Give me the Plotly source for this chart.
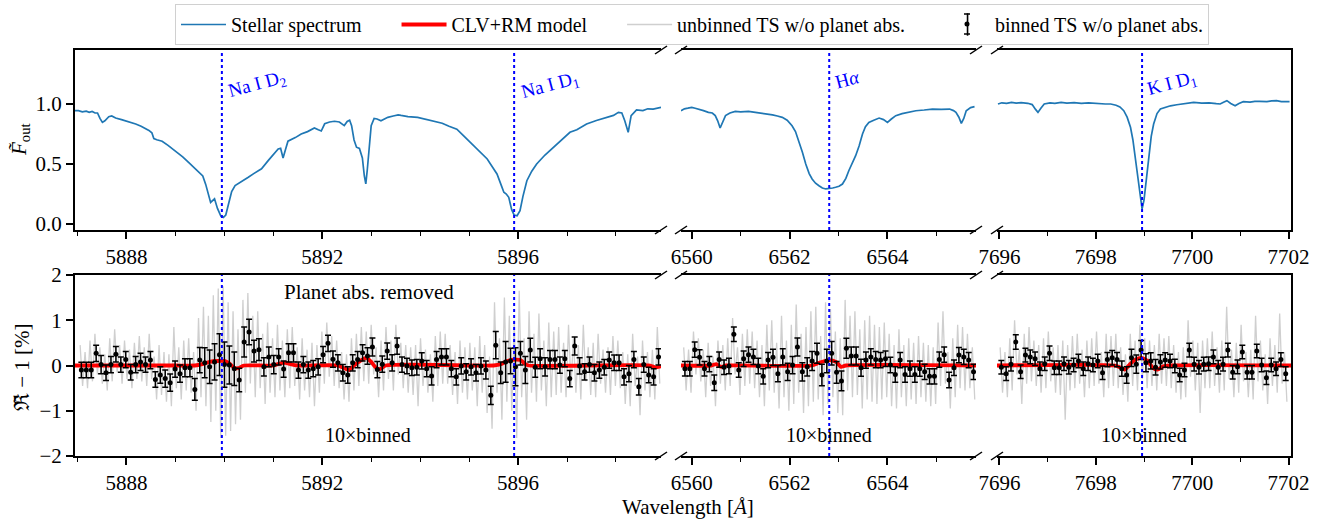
import numpy as np
import plotly.graph_objects as go

W, H = 1336, 520

# ---------------- data ----------------
line_labels = ["Na I D<sub>2</sub>", "Na I D<sub>1</sub>", "H<i>α</i>", "K I D<sub>1</sub>"]
line_centres = [5889.95, 5895.92, 6562.81, 7698.96]
line_panel = [0, 0, 1, 2]

panel_ranges = [[5886.95, 5898.92], [6559.78, 6565.81], [7695.95, 7702.05]]
panel_tick0 = [5888, 6560, 7696]
panel_dtick = [4, 2, 2]

# stellar spectrum (out-of-transit), Na region
spec_na_wl = [5886.95, 5887.02, 5887.10, 5887.18, 5887.24, 5887.30, 5887.36, 5887.41, 5887.46, 5887.51,
              5887.56, 5887.64, 5887.70, 5887.78, 5887.90, 5888.00, 5888.10, 5888.19, 5888.30, 5888.40,
              5888.46, 5888.52, 5888.56, 5888.62, 5888.73, 5888.85, 5889.00, 5889.15, 5889.27, 5889.40,
              5889.50, 5889.56, 5889.62, 5889.72, 5889.80, 5889.86, 5889.93, 5889.98, 5890.03, 5890.08,
              5890.15, 5890.22, 5890.29, 5890.40, 5890.49, 5890.60, 5890.76, 5890.90, 5891.00, 5891.10,
              5891.15, 5891.20, 5891.25, 5891.30, 5891.45, 5891.57, 5891.70, 5891.84, 5891.92, 5891.98,
              5892.05, 5892.15, 5892.25, 5892.35, 5892.45, 5892.51, 5892.56, 5892.60, 5892.65, 5892.70,
              5892.76, 5892.82, 5892.86, 5892.89, 5892.92, 5892.96, 5893.00, 5893.06, 5893.12, 5893.20,
              5893.28, 5893.34, 5893.45, 5893.55, 5893.61, 5893.75, 5893.95, 5894.10, 5894.28, 5894.45,
              5894.59, 5894.75, 5894.90, 5895.03, 5895.20, 5895.37, 5895.50, 5895.57, 5895.65, 5895.71,
              5895.76, 5895.81, 5895.87, 5895.92, 5895.98, 5896.04, 5896.10, 5896.18, 5896.28, 5896.38,
              5896.55, 5896.72, 5896.90, 5897.06, 5897.20, 5897.40, 5897.60, 5897.81, 5897.95, 5898.05,
              5898.12, 5898.18, 5898.25, 5898.31, 5898.42, 5898.55, 5898.65, 5898.76, 5898.85, 5898.92]
spec_na_flux = [0.945, 0.944, 0.935, 0.940, 0.930, 0.938, 0.925, 0.925, 0.880, 0.847,
                0.860, 0.894, 0.900, 0.883, 0.870, 0.858, 0.845, 0.833, 0.815, 0.795,
                0.780, 0.760, 0.712, 0.702, 0.690, 0.655, 0.611, 0.560, 0.514, 0.465,
                0.430, 0.400, 0.330, 0.180, 0.210, 0.130, 0.065, 0.055, 0.075, 0.150,
                0.270, 0.320, 0.340, 0.370, 0.390, 0.420, 0.460, 0.530, 0.580, 0.625,
                0.630, 0.550, 0.620, 0.690, 0.720, 0.750, 0.770, 0.800, 0.785, 0.775,
                0.835, 0.850, 0.856, 0.850, 0.820, 0.855, 0.865, 0.820, 0.700, 0.640,
                0.630, 0.550, 0.400, 0.335, 0.450, 0.660, 0.820, 0.880, 0.875, 0.860,
                0.875, 0.889, 0.900, 0.910, 0.905, 0.895, 0.889, 0.875, 0.861, 0.840,
                0.815, 0.790, 0.730, 0.680, 0.615, 0.542, 0.460, 0.417, 0.330, 0.264,
                0.250, 0.222, 0.120, 0.075, 0.069, 0.111, 0.230, 0.361, 0.440, 0.500,
                0.575, 0.639, 0.705, 0.764, 0.785, 0.833, 0.862, 0.889, 0.905, 0.930,
                0.925, 0.861, 0.764, 0.903, 0.950, 0.945, 0.960, 0.958, 0.965, 0.972]

# H-alpha region
spec_ha_wl = [6559.78, 6559.85, 6559.92, 6560.00, 6560.07, 6560.14, 6560.24, 6560.34, 6560.42, 6560.48,
              6560.53, 6560.58, 6560.63, 6560.69, 6560.78, 6560.89, 6561.00, 6561.16, 6561.30, 6561.40,
              6561.51, 6561.65, 6561.75, 6561.85, 6561.95, 6562.05, 6562.12, 6562.19, 6562.26, 6562.33,
              6562.40, 6562.46, 6562.53, 6562.60, 6562.67, 6562.74, 6562.82, 6562.88, 6562.94, 6563.01,
              6563.08, 6563.15, 6563.21, 6563.28, 6563.35, 6563.42, 6563.49, 6563.55, 6563.62, 6563.72,
              6563.83, 6563.92, 6564.00, 6564.08, 6564.17, 6564.30, 6564.45, 6564.58, 6564.75, 6564.92,
              6565.10, 6565.27, 6565.35, 6565.40, 6565.46, 6565.51, 6565.56, 6565.61, 6565.70, 6565.78]
spec_ha_flux = [0.944, 0.960, 0.965, 0.972, 0.965, 0.958, 0.945, 0.930, 0.925, 0.903,
                0.860, 0.800, 0.850, 0.903, 0.925, 0.939, 0.935, 0.939, 0.930, 0.925,
                0.917, 0.910, 0.900, 0.889, 0.865, 0.819, 0.770, 0.694, 0.600, 0.500,
                0.420, 0.375, 0.340, 0.319, 0.300, 0.292, 0.295, 0.300, 0.306, 0.315,
                0.333, 0.380, 0.444, 0.500, 0.569, 0.650, 0.750, 0.810, 0.847, 0.865,
                0.883, 0.870, 0.847, 0.875, 0.903, 0.920, 0.935, 0.944, 0.950, 0.958,
                0.955, 0.958, 0.945, 0.930, 0.890, 0.839, 0.880, 0.944, 0.970, 0.978]

# K region
spec_k_wl = [7695.97, 7696.05, 7696.15, 7696.25, 7696.35, 7696.45, 7696.59, 7696.68, 7696.75, 7696.80,
             7696.86, 7696.93, 7697.05, 7697.15, 7697.28, 7697.40, 7697.55, 7697.70, 7697.85, 7697.96,
             7698.10, 7698.20, 7698.31, 7698.42, 7698.50, 7698.58, 7698.65, 7698.72, 7698.77, 7698.82,
             7698.87, 7698.91, 7698.96, 7699.00, 7699.03, 7699.07, 7699.10, 7699.15, 7699.20, 7699.27,
             7699.34, 7699.45, 7699.55, 7699.68, 7699.85, 7700.03, 7700.20, 7700.35, 7700.50, 7700.58,
             7700.65, 7700.72, 7700.80, 7700.89, 7700.97, 7701.06, 7701.20, 7701.30, 7701.40, 7701.55,
             7701.65, 7701.75, 7701.85, 7701.95, 7702.02]
spec_k_flux = [1.000, 1.010, 1.005, 1.014, 1.008, 1.012, 1.006, 0.995, 0.955, 0.930,
               0.965, 1.000, 1.010, 1.005, 1.014, 1.008, 1.012, 1.005, 1.010, 1.006,
               1.003, 1.000, 1.000, 0.990, 0.975, 0.944, 0.890, 0.806, 0.700, 0.556,
               0.400, 0.278, 0.125, 0.200, 0.306, 0.450, 0.583, 0.730, 0.833, 0.920,
               0.958, 0.975, 0.985, 0.994, 1.005, 1.014, 1.008, 1.010, 1.003, 1.000,
               1.015, 1.028, 1.005, 0.986, 1.005, 1.019, 1.015, 1.022, 1.022, 1.020,
               1.026, 1.028, 1.020, 1.022, 1.019]

# CLV+RM model [%]
model_na_wl = [5886.95, 5888.00, 5889.00, 5889.40, 5889.55, 5889.70, 5889.85, 5890.00, 5890.10, 5890.20,
               5890.28, 5890.40, 5891.00, 5891.15, 5891.25, 5891.35, 5891.50, 5892.30, 5892.45, 5892.55,
               5892.65, 5892.80, 5892.90, 5893.00, 5893.10, 5893.18, 5893.30, 5895.50, 5895.65, 5895.78,
               5895.92, 5896.05, 5896.15, 5896.22, 5898.70, 5898.80, 5898.92]
model_na = [0.0, 0.0, 0.0, 0.0, 0.03, 0.08, 0.10, 0.10, 0.05, -0.05,
            -0.06, 0.0, 0.0, 0.05, 0.06, 0.03, 0.0, 0.0, -0.06, -0.10,
            0.0, 0.12, 0.17, 0.08, -0.05, -0.08, 0.0, 0.0, 0.03, 0.10,
            0.13, 0.12, 0.03, 0.0, 0.0, -0.04, -0.02]
model_ha_wl = [6559.78, 6560.40, 6560.50, 6560.60, 6560.70, 6562.45, 6562.60, 6562.80, 6562.95, 6563.05,
               6563.15, 6565.81]
model_ha = [0.0, 0.0, 0.03, -0.03, 0.0, 0.0, 0.06, 0.12, 0.08, -0.03,
            0.0, 0.0]
model_k_wl = [7695.95, 7698.40, 7698.50, 7698.60, 7698.70, 7698.82, 7698.95, 7699.08, 7699.18, 7699.28,
              7699.40, 7699.55, 7702.05]
model_k = [0.0, 0.0, -0.04, -0.09, 0.02, 0.13, 0.17, 0.10, -0.05, -0.09,
           -0.02, 0.0, 0.0]

# 10x binned transmission spectrum [%] (regular wavelength bins between first and last bin)
bin_na_span = [5887.08, 5898.87]
bin_na = [-0.10, -0.10, -0.10, 0.27, 0.02, -0.16, 0.02, 0.25, 0.02, 0.13,
          -0.15, 0.02, 0.08, 0.02, 0.12, -0.31, -0.21, -0.29, -0.38, -0.08,
          -0.18, -0.05, -0.05, -0.53, 0.12, 0.06, -0.03, 0.08, 0.24, 0.02,
          0.01, -0.07, -0.32, 0.52, 0.74, 0.32, 0.35, -0.03, 0.19, 0.02,
          0.19, -0.08, 0.28, 0.28, -0.10, 0.02, -0.10, -0.07, -0.03, 0.24,
          0.49, 0.14, 0.06, -0.16, -0.21, 0.06, 0.13, 0.28, 0.21, 0.41,
          -0.09, 0.03, 0.32, 0.06, 0.43, 0.02, -0.01, -0.05, -0.04, 0.10,
          -0.07, -0.23, 0.13, 0.19,
          0.19, -0.07, -0.25, -0.01, -0.14, -0.03, -0.16, -0.01, -0.10, -0.66,
          0.45, -0.16, 0.08, 0.10, -0.03, 0.27, -0.10, 0.34, -0.04, 0.15,
          -0.03, 0.13, 0.13, 0.01, 0.15, -0.29, 0.43, -0.01, -0.14, 0.02,
          -0.16, -0.10, -0.04, 0.12, 0.06, 0.06, -0.25, -0.18, 0.13, -0.47,
          0.02, -0.21, -0.25, 0.19]
bin_na_err = [0.17, 0.17, 0.17, 0.18, 0.20, 0.17, 0.18, 0.17, 0.17, 0.18,
              0.17, 0.18, 0.19, 0.17, 0.19, 0.17, 0.18, 0.19, 0.19, 0.18,
              0.19, 0.20, 0.20, 0.24, 0.28, 0.33, 0.37, 0.40, 0.46, 0.50,
              0.42, 0.37, 0.26, 0.33, 0.28, 0.24, 0.24, 0.20, 0.22, 0.20,
              0.18, 0.18, 0.20, 0.20, 0.18, 0.18, 0.18, 0.18, 0.18, 0.18,
              0.18, 0.18, 0.18, 0.18, 0.18, 0.18, 0.18, 0.18, 0.18, 0.20,
              0.18, 0.18, 0.18, 0.18, 0.18, 0.17, 0.17, 0.17, 0.17, 0.18,
              0.18, 0.20, 0.18, 0.18,
              0.18, 0.18, 0.18, 0.18, 0.18, 0.18, 0.18, 0.18, 0.20, 0.20,
              0.30, 0.24, 0.45, 0.28, 0.42, 0.26, 0.30, 0.26, 0.22, 0.22,
              0.20, 0.20, 0.20, 0.18, 0.18, 0.18, 0.20, 0.18, 0.18, 0.17,
              0.18, 0.18, 0.17, 0.18, 0.17, 0.17, 0.18, 0.18, 0.18, 0.18,
              0.17, 0.17, 0.18, 0.18]

bin_ha_span = [6559.86, 6565.76]
bin_ha = [-0.07, -0.07, 0.35, 0.18, -0.07, 0.03, -0.38, 0.13, -0.04, -0.01,
          0.69, -0.10, 0.15, 0.24, 0.19, -0.01, -0.24, 0.12, 0.18, -0.18,
          0.19, -0.14, 0.01, 0.41, -0.14, -0.03, 0.10, 0.27, -0.21, 0.10,
          0.27, -0.15, -0.34, 0.38, 0.21, 0.21, -0.05, 0.12, 0.19, 0.13,
          0.12, 0.15, 0.01, -0.20, 0.12, -0.20, -0.07, -0.20, -0.07, -0.14,
          -0.24, -0.24, 0.13, 0.24, -0.32, -0.05, 0.23, 0.19, 0.12, -0.14]
bin_ha_err = [0.16, 0.16, 0.17, 0.17, 0.16, 0.17, 0.17, 0.17, 0.16, 0.17,
              0.16, 0.16, 0.17, 0.17, 0.17, 0.17, 0.17, 0.17, 0.18, 0.18,
              0.18, 0.19, 0.19, 0.20, 0.20, 0.20, 0.21, 0.22, 0.24, 0.26,
              0.26, 0.24, 0.22, 0.22, 0.20, 0.20, 0.19, 0.18, 0.18, 0.18,
              0.17, 0.17, 0.17, 0.17, 0.17, 0.17, 0.17, 0.17, 0.17, 0.17,
              0.17, 0.17, 0.17, 0.17, 0.17, 0.17, 0.17, 0.17, 0.17, 0.17]

bin_k_span = [7696.04, 7701.94]
bin_k = [-0.04, -0.18, 0.03, 0.52, -0.14, 0.23, 0.19, 0.15, -0.07, 0.04,
         0.27, -0.05, -0.05, 0.04, -0.04, 0.01, 0.10, -0.07, 0.04, 0.01,
         0.10, -0.16, 0.13, 0.17, 0.13, -0.07, -0.21, 0.17, 0.03, 0.34,
         0.06, 0.10, -0.04, 0.08, 0.12, 0.10, -0.01, -0.21, -0.10, 0.34,
         0.03, -0.04, 0.03, 0.04, 0.19, -0.04, 0.03, 0.34, -0.15, -0.03,
         0.30, -0.15, -0.15, 0.32, 0.01, -0.27, 0.01, -0.07, 0.13, -0.18]
bin_k_err = [0.15, 0.15, 0.15, 0.16, 0.15, 0.15, 0.15, 0.15, 0.15, 0.15,
             0.16, 0.15, 0.15, 0.15, 0.15, 0.15, 0.15, 0.15, 0.15, 0.15,
             0.15, 0.15, 0.16, 0.16, 0.16, 0.17, 0.18, 0.19, 0.20, 0.21,
             0.20, 0.18, 0.17, 0.16, 0.16, 0.15, 0.15, 0.15, 0.15, 0.15,
             0.15, 0.15, 0.15, 0.15, 0.15, 0.15, 0.15, 0.15, 0.15, 0.15,
             0.15, 0.15, 0.15, 0.15, 0.15, 0.15, 0.15, 0.15, 0.15, 0.15]

# unbinned transmission spectrum [%]: upper / lower excursion within each bin
unbinned_na = [0.45, -0.45, 0.30, -0.50, 0.55, -0.35, 0.70, -0.20, 0.40, -0.40,
               0.25, -0.55, 0.60, -0.35, 0.80, -0.15, 0.45, -0.40, 0.55, -0.30,
               0.35, -0.50, 0.50, -0.30, 0.65, -0.35, 0.40, -0.45, 0.70, -0.30,
               0.20, -0.75, 0.45, -0.65, 0.30, -0.80, 0.25, -0.90, 0.85, -0.50,
               0.40, -0.75, 0.55, -0.55, 0.60, -0.60, 0.30, -1.00, 1.05, -0.70,
               1.30, -0.90, 1.10, -1.25, 1.55, -1.00, 1.70, -1.60, 1.75, -1.55,
               1.40, -1.45, 1.20, -1.30, 0.80, -1.20, 1.45, -0.60, 1.60, -0.40,
               1.10, -0.70, 1.20, -0.50, 0.70, -0.85, 0.95, -0.60, 0.60, -0.70,
               0.90, -0.55, 0.55, -0.70, 0.80, -0.50, 0.85, -0.45, 0.40, -0.75,
               0.60, -0.55, 0.35, -0.70, 0.50, -0.90, 0.45, -0.60, 0.75, -0.40,
               0.95, -0.25, 0.65, -0.45, 0.55, -0.50, 0.30, -0.75, 0.25, -0.80,
               0.60, -0.55, 0.70, -0.45, 0.85, -0.35, 0.75, -0.40, 0.90, -0.20,
               0.40, -0.70, 0.55, -0.55, 0.85, -0.30, 0.55, -0.55, 0.90, -0.20,
               0.50, -0.50, 0.45, -0.60, 0.40, -0.65, 0.45, -0.90, 0.60, -0.45,
               0.35, -0.60, 0.25, -0.80, 0.65, -0.45, 0.75, -0.40, 0.70, -0.40,
               0.45, -0.65, 0.30, -0.85, 0.55, -0.60, 0.40, -0.75, 0.50, -0.55,
               0.40, -0.90, 0.65, -0.60, 0.45, -1.05, 0.20, -1.40, 1.40, -0.60,
               0.60, -1.20, 1.50, -0.80, 1.10, -1.00, 1.00, -1.60, 1.65, -0.70,
               0.60, -1.20, 1.20, -0.60, 0.70, -0.80, 1.15, -0.55, 0.55, -0.90,
               0.95, -0.70, 0.75, -0.65, 0.85, -0.60, 0.50, -0.70, 0.90, -0.45,
               0.60, -0.60, 0.45, -0.75, 0.90, -0.35, 0.40, -0.65, 0.50, -0.70,
               0.70, -0.40, 0.35, -0.60, 0.40, -0.65, 0.65, -0.45, 0.55, -0.50,
               0.30, -0.85, 0.25, -0.90, 0.70, -0.45, 0.20, -1.10, 0.55, -0.55,
               0.30, -0.70, 0.35, -0.75, 0.85, -0.40]
unbinned_ha = [0.40, -0.55, 0.35, -0.60, 0.75, -0.20, 0.60, -0.35, 0.35, -0.70,
               0.50, -0.45, 0.20, -0.90, 0.55, -0.40, 0.45, -0.55, 0.60, -0.45,
               1.05, -0.20, 0.40, -0.65, 0.70, -0.45, 0.80, -0.40, 0.75, -0.50,
               0.55, -0.70, 0.45, -0.90, 0.90, -0.55, 1.00, -0.60, 0.50, -0.95,
               1.10, -0.70, 0.55, -1.00, 0.90, -0.85, 1.35, -0.60, 0.70, -1.05,
               0.85, -0.90, 1.20, -0.80, 1.30, -0.75, 0.65, -1.10, 1.40, -0.85,
               1.25, -0.70, 0.75, -1.05, 0.60, -1.10, 1.45, -0.55, 1.10, -0.70,
               1.20, -0.65, 0.80, -0.95, 1.00, -0.75, 1.10, -0.80, 0.90, -0.85,
               0.85, -0.75, 0.95, -0.70, 0.70, -0.90, 0.45, -0.95, 0.80, -0.70,
               0.45, -0.90, 0.60, -0.75, 0.50, -0.85, 0.65, -0.70, 0.50, -0.80,
               0.45, -0.90, 0.40, -0.85, 0.95, -0.45, 1.20, -0.40, 0.30, -0.95,
               0.60, -0.70, 0.90, -0.50, 0.85, -0.55, 0.70, -0.50, 0.40, -0.75]
unbinned_k = [0.40, -0.60, 0.30, -0.70, 0.60, -0.55, 1.00, -0.20, 0.35, -0.85,
              0.70, -0.40, 0.85, -0.35, 0.55, -0.45, 0.45, -0.60, 0.60, -0.50,
              0.75, -0.35, 0.40, -0.60, 0.45, -0.65, 0.55, -1.20, 0.45, -0.55,
              0.65, -0.50, 0.70, -0.40, 0.35, -0.70, 0.55, -0.50, 0.60, -0.45,
              0.75, -0.40, 0.30, -0.70, 0.70, -0.50, 0.65, -0.45, 0.70, -0.50,
              0.40, -0.65, 0.25, -0.80, 0.70, -0.45, 0.55, -0.55, 0.90, -0.30,
              0.60, -0.50, 0.55, -0.45, 0.45, -0.55, 0.70, -0.40, 0.60, -0.45,
              0.65, -0.50, 0.45, -0.60, 0.30, -0.75, 0.40, -0.70, 1.00, -0.25,
              0.55, -0.55, 0.50, -1.05, 0.55, -0.50, 0.60, -0.50, 0.75, -0.45,
              0.40, -0.60, 0.55, -0.55, 1.30, -0.30, 0.35, -0.70, 0.50, -0.60,
              0.90, -0.35, 0.30, -0.70, 0.35, -0.75, 1.10, -0.35, 0.55, -0.55,
              0.25, -0.85, 0.60, -0.45, 0.45, -0.60, 1.15, -0.40, 0.30, -0.80]

legend_names = ["Stellar spectrum", "CLV+RM model", "unbinned TS w/o planet abs.", "binned TS w/o planet abs."]

spectra = [(spec_na_wl, spec_na_flux), (spec_ha_wl, spec_ha_flux), (spec_k_wl, spec_k_flux)]
models = [(model_na_wl, model_na), (model_ha_wl, model_ha), (model_k_wl, model_k)]
binned = [(bin_na_span, bin_na, bin_na_err), (bin_ha_span, bin_ha, bin_ha_err), (bin_k_span, bin_k, bin_k_err)]
unbinned = [unbinned_na, unbinned_ha, unbinned_k]

# ---------------- layout geometry (pixels) ----------------
PX = [(75, 661), (681, 976), (997, 1291)]
ROWS = [(50, 230), (275, 456)]
FONT = "Liberation Serif, Times New Roman, serif"
PAD = "\u00a0" * 6


def fx(px):
    return px / W


def fy(py):
    return 1 - py / H


fig = go.Figure()
layout = {}

for r in range(2):
    for p in range(3):
        k = r * 3 + p + 1
        xs = "x" if k == 1 else f"x{k}"
        ys = "y" if k == 1 else f"y{k}"
        xa = "xaxis" if k == 1 else f"xaxis{k}"
        ya = "yaxis" if k == 1 else f"yaxis{k}"
        layout[xa] = dict(
            domain=[fx(PX[p][0]), fx(PX[p][1])], anchor=ys, range=panel_ranges[p],
            showline=True, linewidth=2, linecolor="black", mirror=True,
            ticks="outside", ticklen=7, tickwidth=1.5, tickcolor="black",
            tick0=panel_tick0[p], dtick=panel_dtick[p],
            minor=dict(ticks="outside", ticklen=4, tickwidth=1.2, tickcolor="black",
                       dtick=1, tick0=panel_tick0[p]),
            showgrid=False, zeroline=False,
            tickfont=dict(family=FONT, size=21, color="black"),
        )
        yd = dict(domain=[fy(ROWS[r][1]), fy(ROWS[r][0])], anchor=xs,
                  showgrid=False, zeroline=False,
                  tickfont=dict(family=FONT, size=21, color="black"))
        if r == 0:
            yd.update(range=[-0.05, 1.45], tickvals=[0, 0.5, 1.0], ticktext=["0.0", "0.5", "1.0"])
        else:
            yd.update(range=[-2, 2], tickvals=[-2, -1, 0, 1, 2])
        if p == 0:
            yd.update(showline=True, linewidth=2, linecolor="black", ticks="outside",
                      ticklen=7, tickwidth=1.5, tickcolor="black")
        elif p == 1:
            yd.update(showline=False, showticklabels=False, ticks="")
        else:
            yd.update(showline=True, linewidth=2, linecolor="black", side="right",
                      showticklabels=False, ticks="")
        layout[ya] = yd

        if r == 0:
            wl, fl = spectra[p]
            fig.add_trace(go.Scatter(x=wl, y=fl, mode="lines", xaxis=xs, yaxis=ys,
                                     line=dict(color="#1f77b4", width=1.7),
                                     name=legend_names[0] + PAD, showlegend=(p == 0),
                                     legendrank=1))
        else:
            span, vals, errs = binned[p]
            n = len(vals)
            centres = np.linspace(span[0], span[1], n)
            step = (span[1] - span[0]) / (n - 1)
            ub = unbinned[p]
            nu = len(ub) // 2
            uc = np.linspace(span[0], span[1], nu)
            ux = np.empty(2 * nu)
            ux[0::2] = uc - step / 4
            ux[1::2] = uc + step / 4
            fig.add_trace(go.Scatter(x=ux, y=ub[:2 * nu], mode="lines", xaxis=xs, yaxis=ys,
                                     line=dict(color="#cfcfcf", width=1.3),
                                     name=legend_names[2] + PAD, showlegend=(p == 0),
                                     legendrank=3))
            mw, mv = models[p]
            fig.add_trace(go.Scatter(x=mw, y=mv, mode="lines", xaxis=xs, yaxis=ys,
                                     line=dict(color="#ff0000", width=3.8, shape="spline", smoothing=0.6),
                                     name=legend_names[1] + PAD, showlegend=(p == 0), legendrank=2))
            fig.add_trace(go.Scatter(x=centres, y=vals, mode="markers", xaxis=xs, yaxis=ys,
                                     marker=dict(color="black", size=5),
                                     error_y=dict(type="data", array=errs, visible=True,
                                                  color="black", thickness=1.5, width=3),
                                     name=legend_names[3], showlegend=False))

# legend-only entry drawn as an error-bar glyph
fig.add_trace(go.Scatter(x=[None], y=[None], mode="markers", xaxis="x4", yaxis="y4",
                         marker=dict(symbol="line-ns-open", size=20, color="black",
                                     line=dict(color="black", width=1.6)),
                         name=legend_names[3], showlegend=True, legendrank=4))

shapes = []
# dotted line markers at the line centres
for lc, lp in zip(line_centres, line_panel):
    for r in range(2):
        k = r * 3 + lp + 1
        xs = "x" if k == 1 else f"x{k}"
        ys = "y" if k == 1 else f"y{k}"
        shapes.append(dict(type="line", xref=xs, yref=f"{ys} domain", x0=lc, x1=lc, y0=0, y1=1,
                           line=dict(color="#0000ff", width=2, dash="dot"), layer="above"))

# broken-axis diagonal marks
break_x = [PX[0][1], PX[1][0], PX[1][1], PX[2][0]]
for (top, bot) in ROWS:
    for bx in break_x:
        for by in (top, bot):
            shapes.append(dict(type="line", xref="paper", yref="paper",
                               x0=fx(bx - 6), y0=fy(by + 4), x1=fx(bx + 6), y1=fy(by - 4),
                               line=dict(color="black", width=1.5)))

# caps and dot of the error-bar legend glyph
GX, GY = 967, 24
for cy in (GY - 10, GY + 10):
    shapes.append(dict(type="line", xref="paper", yref="paper",
                       x0=fx(GX - 3), x1=fx(GX + 3), y0=fy(cy), y1=fy(cy),
                       line=dict(color="black", width=1.5)))
shapes.append(dict(type="circle", xref="paper", yref="paper",
                   x0=fx(GX - 2.5), x1=fx(GX + 2.5), y0=fy(GY - 2.5), y1=fy(GY + 2.5),
                   fillcolor="black", line=dict(color="black", width=0)))

annotations = []
label_pos = [(257, 85), (550, 86), (847, 79), (1172, 84)]
for txt, (lx, ly) in zip(line_labels, label_pos):
    annotations.append(dict(text=txt, x=fx(lx), y=fy(ly), xref="paper", yref="paper",
                            showarrow=False, textangle=-15, xanchor="center", yanchor="middle",
                            font=dict(family=FONT, size=19, color="#0000ff")))
annotations.append(dict(text="Planet abs. removed", x=fx(369), y=fy(292), xref="paper", yref="paper",
                        showarrow=False, xanchor="center", yanchor="middle",
                        font=dict(family=FONT, size=21, color="black")))
for p in range(3):
    annotations.append(dict(text="10×binned", x=fx((PX[p][0] + PX[p][1]) / 2), y=fy(435),
                            xref="paper", yref="paper", showarrow=False,
                            xanchor="center", yanchor="middle",
                            font=dict(family=FONT, size=20, color="black")))
annotations.append(dict(text="<i>F\u0303</i><sub>out</sub>", x=fx(20), y=fy(140), xref="paper", yref="paper",
                        showarrow=False, textangle=-90, xanchor="center", yanchor="middle",
                        font=dict(family=FONT, size=21, color="black")))
annotations.append(dict(text="\u211c\u0303 \u2212 1 [%]", x=fx(22), y=fy(367), xref="paper", yref="paper",
                        showarrow=False, textangle=-90, xanchor="center", yanchor="middle",
                        font=dict(family=FONT, size=21, color="black")))
annotations.append(dict(text="Wavelength [<i>Å</i>]", x=fx(688), y=fy(507), xref="paper", yref="paper",
                        showarrow=False, xanchor="center", yanchor="middle",
                        font=dict(family=FONT, size=21, color="black")))

fig.update_layout(
    width=W, height=H,
    margin=dict(l=0, r=0, t=0, b=0, autoexpand=False),
    paper_bgcolor="white", plot_bgcolor="white",
    font=dict(family=FONT, color="black"),
    shapes=shapes, annotations=annotations,
    legend=dict(orientation="h", x=fx(692), xanchor="center", y=fy(4), yanchor="top",
                bordercolor="#d0d0d0", borderwidth=1, bgcolor="rgba(0,0,0,0)", itemwidth=45,
                font=dict(family=FONT, size=20, color="black")),
    **layout,
)

fig.write_html("out.html")
